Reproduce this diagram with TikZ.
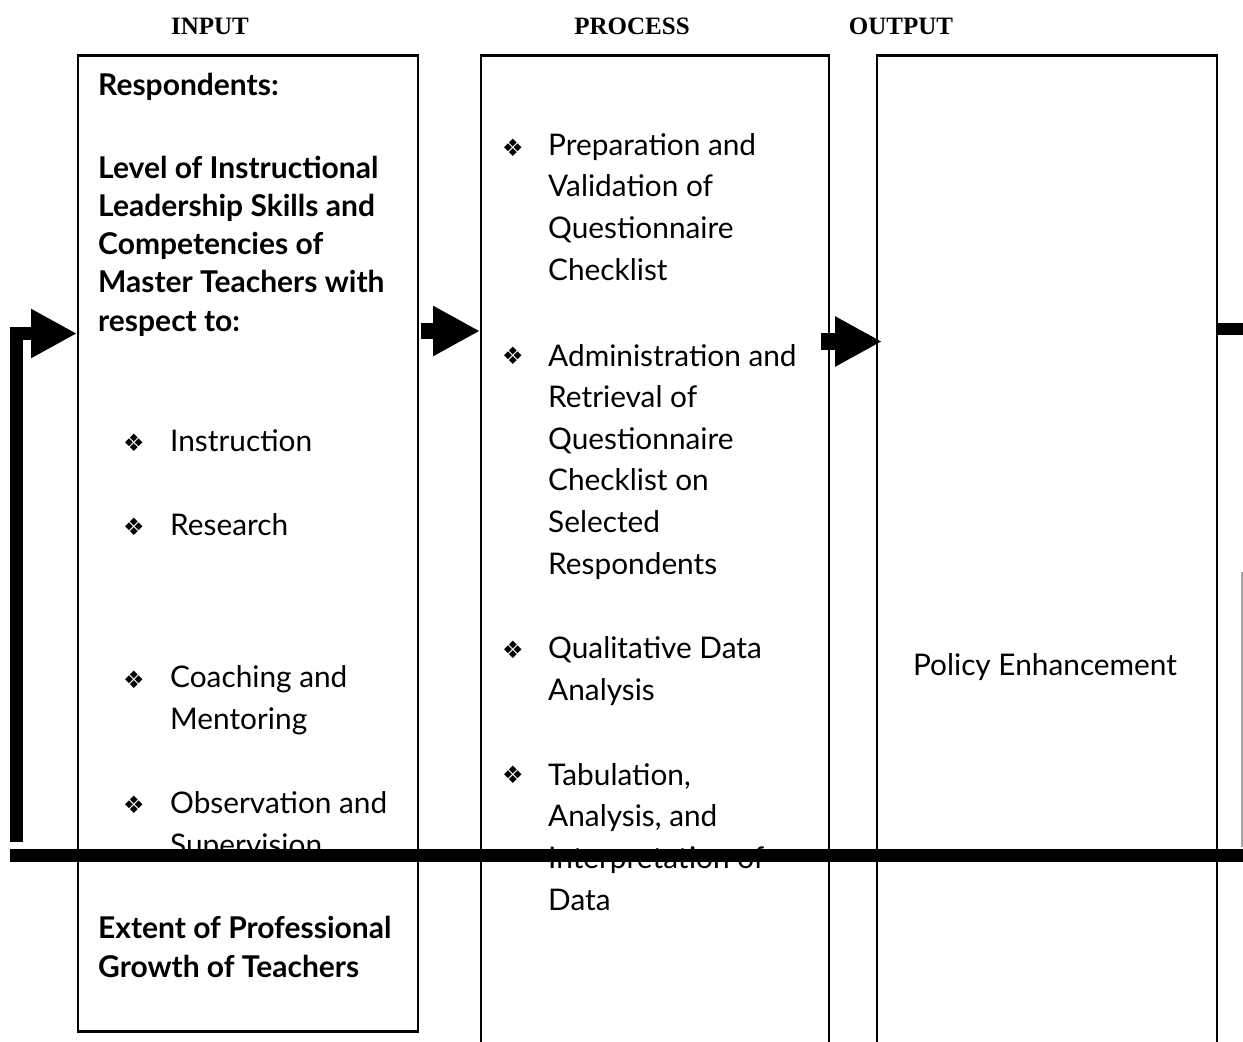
\documentclass[tikz,border=0pt]{standalone}
\usepackage{fontspec}
\setmainfont{Lato}
\newfontfamily\headfont{Liberation Serif}
\newfontfamily\symfont{DejaVu Sans}
\usetikzlibrary{arrows.meta}

\begin{document}
\begin{tikzpicture}
[x=1pt,y=-1pt,%
  boxLine/.style={draw,line width=1.5pt,inner sep=0pt,anchor=north west},%
  topLine/.style={line width=3pt},%
  heading/.style={font=\headfont\bfseries\fontsize{25}{30}\selectfont,inner sep=0pt,anchor=base},%
  item/.style={font=\fontsize{29.8}{41.6}\selectfont,align=left,inner sep=0pt,anchor=base west},%
  boldItem/.style={font=\bfseries\fontsize{30}{38.2}\selectfont,align=left,inner sep=0pt,anchor=base west},%
  bullet/.style={font=\symfont\fontsize{24}{24}\selectfont,inner sep=0pt,anchor=base west},%
  blockArrow/.style={-{Triangle[length=#1,width=#1]}},%
  bar/.style={line width=13pt}]
\useasboundingbox (0,0) rectangle (1243,1042);
\clip (0,0) rectangle (1243,1042);

%% headings
\node[heading] (hIn) at (210,34) {INPUT};
\node[heading] (hProc) at (632,34) {PROCESS};
\node[heading] (hOut) at (901,34) {OUTPUT};

%% the three columns
\node[boxLine,minimum width=340pt,minimum height=975pt] (input) at (77,55) {};
\node[boxLine,minimum width=348pt,minimum height=1100pt] (process) at (480,55) {};
\node[boxLine,minimum width=340pt,minimum height=1100pt] (output) at (876,55) {};
\draw[topLine] (input.north west) -- (input.north east);
\draw[topLine] (input.south west) -- (input.south east);
\draw[topLine] (process.north west) -- (process.north east);
\draw[topLine] (output.north west) -- (output.north east);

%% input column (multi-line nodes sit on their last baseline)
\node[boldItem] (resp) at (98,95) {Respondents:};
\node[boldItem] (level) at (98,331) {Level of Instructional\\Leadership Skills and\\Competencies of\\Master Teachers with\\respect to:};
\node[item] (instr) at (170,451) {Instruction};
\node[item] (research) at (170,535) {Research};
\node[item] (coach) at (170,729) {Coaching and\\Mentoring};
\node[item] (observe) at (170,855) {Observation and\\Supervision};
\node[boldItem] (extent) at (98,977) {Extent of Professional\\Growth of Teachers};

%% process column
\node[item] (prep) at (548,280) {Preparation and\\Validation of\\Questionnaire\\Checklist};
\node[item] (admin) at (548,574) {Administration and\\Retrieval of\\Questionnaire\\Checklist on\\Selected\\Respondents};
\node[item] (quali) at (548,700) {Qualitative Data\\Analysis};
\node[item] (tabul) at (548,910) {Tabulation,\\Analysis, and\\Interpretation of\\Data};

%% output column
\node[item,anchor=base] (policy) at (1045,675) {Policy Enhancement};

\foreach \bx/\by [count=\i] in {123/451, 123/535, 123/688, 123/813, 502/156, 502/364, 502/658, 502/783}
{
  \node[bullet] (bul\i) at (\bx,\by) {❖};
}

%% arrows between the columns
\coordinate (fbStart) at (16,842);
\coordinate (fbCorner) at (16,333.5);
\coordinate (inTail) at (421,331);
\coordinate (procTail) at (821,341.5);
\draw[blockArrow=46pt,line width=13pt,line join=miter] (fbStart) -- (fbCorner) -- (fbCorner -| input.west);
\draw[blockArrow=47pt,line width=16pt] (inTail) -- (inTail -| process.west);
\draw[blockArrow=47pt,line width=17pt] (procTail) -- ([xshift=6pt]procTail -| output.west);

%% loose bars on the right and across the page
\coordinate (outStub) at (1217,329);
\draw[line width=12pt] (outStub) -- (outStub -| 1243,0);
\draw[gray!70,line width=1.5pt] (1242,572) -- (1242,847);
\coordinate (barLeft) at (10,855.5);
\draw[bar] (barLeft) -- (barLeft -| 1243,0);
\end{tikzpicture}
\end{document}
